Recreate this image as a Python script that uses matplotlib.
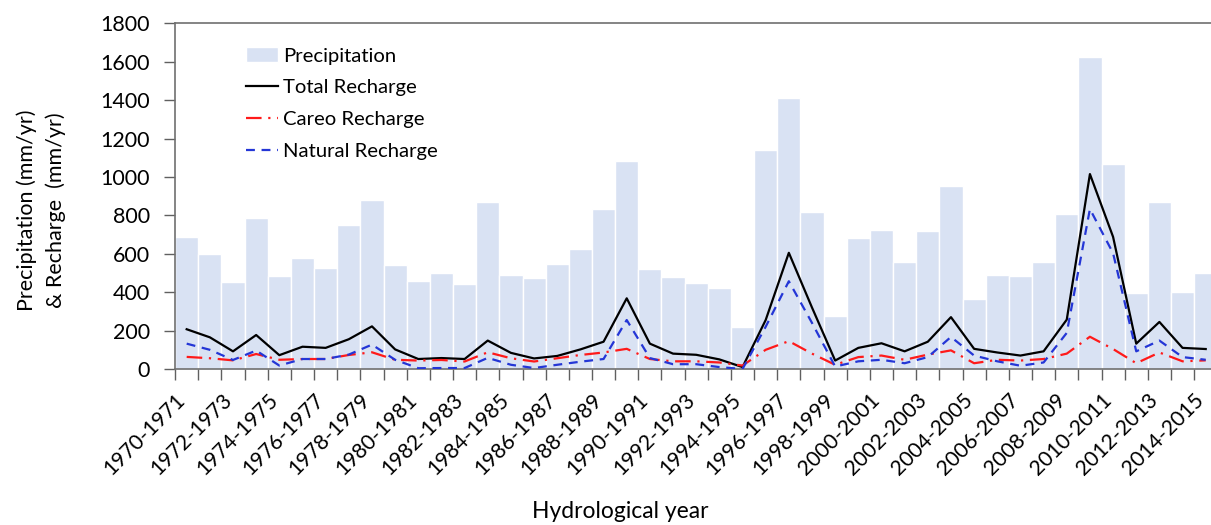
import numpy as np
import matplotlib.pyplot as plt
from matplotlib.transforms import ScaledTranslation

years = [f"{y}-{y + 1}" for y in range(1970, 2015)]

precipitation = [685, 600, 455, 785, 485, 578, 525, 752, 880, 540,
                 457, 498, 443, 872, 490, 475, 545, 623, 833, 1085,
                 520, 478, 450, 422, 220, 1142, 1413, 820, 275, 680,
                 725, 557, 717, 952, 362, 492, 483, 557, 805, 1623,
                 1068, 396, 870, 403, 500]

total_recharge = [207, 165, 92, 177, 72, 116, 110, 155, 222, 102,
                  52, 57, 52, 148, 84, 55, 68, 102, 142, 368,
                  132, 80, 74, 50, 10, 255, 605, 320, 44, 110,
                  134, 92, 142, 270, 105, 86, 70, 92, 257, 1015,
                  688, 132, 245, 110, 104]

careo_recharge = [63, 56, 45, 78, 48, 52, 52, 73, 87, 48,
                  44, 47, 39, 87, 56, 39, 56, 73, 86, 105,
                  52, 40, 40, 34, 18, 100, 145, 80, 22, 62,
                  70, 48, 75, 97, 30, 48, 44, 52, 80, 168,
                  104, 30, 86, 40, 45]

natural_recharge = [132, 100, 47, 96, 18, 52, 52, 75, 127, 48,
                    4, 5, 5, 58, 22, 5, 22, 38, 52, 255,
                    57, 25, 25, 10, 0, 220, 457, 240, 13, 40,
                    48, 30, 62, 167, 70, 40, 17, 34, 188, 833,
                    603, 92, 148, 62, 48]

plt.rcParams['font.family'] = ['Lato', 'DejaVu Sans']

fig = plt.figure(figsize=(12.11, 5.25), dpi=100)
W, H = 1211, 525
x0, x1 = 175.1, 1217.3
y_top, y_bot = 23.3, 369.0
ax = fig.add_axes([x0 / W, (H - y_bot) / H, (x1 - x0) / W, (y_bot - y_top) / H])

x = np.arange(len(years))
bars = ax.bar(x, precipitation, width=1.0, color='#d9e2f3', edgecolor='white',
              linewidth=1.0, label='Precipitation', zorder=1)
l1, = ax.plot(x, total_recharge, color='black', lw=1.6, label='Total Recharge', zorder=3)
l2, = ax.plot(x, careo_recharge, color='#ff1a1a', lw=1.6, ls=(0, (7, 3, 1, 3)),
              label='Careo Recharge', zorder=3)
l3, = ax.plot(x, natural_recharge, color='#2436d6', lw=1.6, ls=(0, (4, 3)),
              label='Natural Recharge', zorder=4)

ax.set_xlim(-0.5, len(years) - 0.5)
ax.set_ylim(0, 1800)
ax.set_yticks(range(0, 1801, 200))
ax.tick_params(axis='y', labelsize=15.5, length=8, width=1, color='#606060', pad=10)

# year labels every second bar, minor ticks mark the bar edges
ax.set_xticks(np.arange(-0.5, len(years), 1.0), minor=True)
ax.set_xticks(x[::2])
ax.set_xticklabels(years[::2], rotation=45, ha='right', va='bottom',
                   rotation_mode='anchor')
ax.tick_params(axis='x', which='major', length=0, labelsize=15.2, pad=25)
ax.tick_params(axis='x', which='minor', length=8, width=1, color='#606060')
shift = ScaledTranslation(2.5 / 100, 0, fig.dpi_scale_trans)
for lab in ax.get_xticklabels():
    lab.set_transform(lab.get_transform() + shift)

for s in ax.spines.values():
    s.set_color('#707070')
    s.set_linewidth(1.2)

fig.text(41 / W, 1 - 210 / H, 'Precipitation (mm/yr)\n& Recharge  (mm/yr)',
         fontsize=15.5, rotation=90, ha='center', va='center',
         multialignment='center', linespacing=1.5)

fig.text(620 / W, 1 - 512 / H, 'Hydrological year', fontsize=16.5,
         ha='center', va='center')

ax.legend([bars, l1, l2, l3],
          ['Precipitation', 'Total Recharge', 'Careo Recharge', 'Natural Recharge'],
          loc='upper left', bbox_to_anchor=(0.068, 0.93), frameon=False,
          borderpad=0, borderaxespad=0,
          fontsize=14.6, handlelength=1.6, handletextpad=0.25,
          labelspacing=0.72)

fig.savefig('out.png', dpi=100)
